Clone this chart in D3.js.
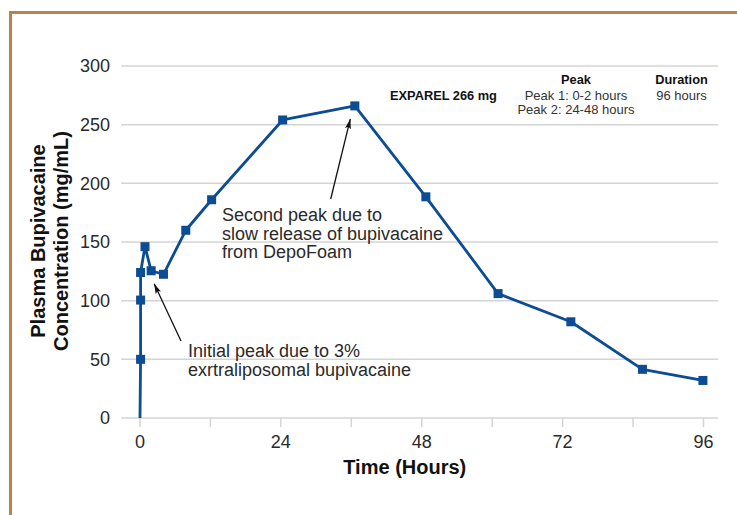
<!DOCTYPE html>
<html>
<head>
<meta charset="utf-8">
<script src="https://cdn.jsdelivr.net/npm/d3@7"></script>
<style>
    body { margin: 0; background: #fff; }
    svg text { font-family: "Liberation Sans", Helvetica, Arial, sans-serif; }
</style>
</head>
<body>
<div id="chart"></div>
<script>
// plasma concentration
var hours = [0, 0.1, 0.1, 0.1, 0.85, 1.9, 4, 7.8, 12.2, 24.3, 36.6, 48.7, 61, 73.4, 85.6, 95.9];
var conc = [0, 50, 100.5, 124, 146, 125.5, 122.5, 160, 186, 254, 266, 188.5, 106, 82, 41.5, 32];
var yTicks = [0, 50, 100, 150, 200, 250, 300];
var xTicks = [0, 24, 48, 72, 96];
var xMinorTicks = [0, 12, 24, 36, 48, 60, 72, 84, 96];
var yTitle = ["Plasma Bupivacaine", "Concentration (mg/mL)"];
var xTitle = "Time (Hours)";
var note1 = ["Second peak due to", "slow release of bupivacaine", "from DepoFoam"];
var note2 = ["Initial peak due to 3%", "exrtraliposomal bupivacaine"];
var tableDrug = "EXPAREL 266 mg";
var tablePeak = ["Peak 1: 0-2 hours", "Peak 2: 24-48 hours"];
var tableDuration = ["96 hours"];

var W = 737, H = 515;
var blue = "#0b4c92";
var grid = "#d4d4d4";

var svg = d3.select("#chart").append("svg")
    .attr("width", W)
    .attr("height", H);

// frame
svg.append("path")
    .attr("d", "M10.5," + H + " L10.5,12.5 L" + W + ",12.5")
    .attr("fill", "none")
    .attr("stroke", "#b9834f")
    .attr("stroke-width", 3);

var x = d3.scaleLinear().domain([0, 96]).range([140, 703.5]);
var y = d3.scaleLinear().domain([0, 300]).range([418, 66]);

// gridlines
svg.append("g").selectAll("line").data(yTicks)
    .enter().append("line")
    .attr("x1", 121)
    .attr("x2", 718)
    .attr("y1", function (d) { return y(d); })
    .attr("y2", function (d) { return y(d); })
    .attr("stroke", grid)
    .attr("stroke-width", 1.5);

// x ticks
svg.append("g").selectAll("line").data(xMinorTicks)
    .enter().append("line")
    .attr("x1", function (d) { return x(d); })
    .attr("x2", function (d) { return x(d); })
    .attr("y1", y(0))
    .attr("y2", y(0) + 9)
    .attr("stroke", grid)
    .attr("stroke-width", 1.5);

svg.append("g").selectAll("text").data(yTicks)
    .enter().append("text")
    .attr("x", 110)
    .attr("y", function (d) { return y(d); })
    .attr("dy", "0.35em")
    .attr("text-anchor", "end")
    .attr("font-size", "18px")
    .attr("fill", "#2a2a2a")
    .text(function (d) { return d; });

svg.append("g").selectAll("text").data(xTicks)
    .enter().append("text")
    .attr("x", function (d) { return x(d); })
    .attr("y", 448)
    .attr("text-anchor", "middle")
    .attr("font-size", "18px")
    .attr("fill", "#2a2a2a")
    .text(function (d) { return d; });

// axis titles
svg.append("text")
    .attr("x", x(48) - 17)
    .attr("y", 474)
    .attr("text-anchor", "middle")
    .attr("font-size", "20px")
    .attr("font-weight", "bold")
    .attr("fill", "#111")
    .text(xTitle);

svg.append("g")
    .attr("transform", "translate(0,241) rotate(-90)")
    .selectAll("text").data(yTitle)
    .enter().append("text")
    .attr("x", 0)
    .attr("y", function (d, i) { return 45 + i * 23; })
    .attr("text-anchor", "middle")
    .attr("font-size", "20px")
    .attr("font-weight", "bold")
    .attr("fill", "#111")
    .text(function (d) { return d; });

// series
var pts = hours.map(function (h, i) { return [h, conc[i]]; });

svg.append("path")
    .datum(pts)
    .attr("d", d3.line()
        .x(function (d) { return x(d[0]); })
        .y(function (d) { return y(d[1]); }))
    .attr("fill", "none")
    .attr("stroke", blue)
    .attr("stroke-width", 2.8)
    .attr("stroke-linejoin", "round");

svg.append("g").selectAll("rect").data(pts.slice(1))
    .enter().append("rect")
    .attr("x", function (d) { return x(d[0]) - 4.5; })
    .attr("y", function (d) { return y(d[1]) - 4.5; })
    .attr("width", 9)
    .attr("height", 9)
    .attr("fill", blue);

// annotation arrows
svg.append("defs").append("marker")
    .attr("id", "head")
    .attr("viewBox", "0 0 10 6")
    .attr("refX", 10)
    .attr("refY", 3)
    .attr("markerWidth", 10)
    .attr("markerHeight", 6)
    .attr("markerUnits", "userSpaceOnUse")
    .attr("orient", "auto")
    .append("path")
    .attr("d", "M0,0 L10,3 L0,6 L2,3 Z")
    .attr("fill", "#111");

svg.append("line")
    .attr("x1", 330.7).attr("y1", 199)
    .attr("x2", x(36.6) - 4.5).attr("y2", y(266) + 13)
    .attr("stroke", "#111")
    .attr("stroke-width", 1.3)
    .attr("marker-end", "url(#head)");

svg.append("line")
    .attr("x1", 181).attr("y1", 341)
    .attr("x2", x(1.9) + 3).attr("y2", y(125.5) + 13)
    .attr("stroke", "#111")
    .attr("stroke-width", 1.3)
    .attr("marker-end", "url(#head)");

svg.append("g").selectAll("text").data(note1)
    .enter().append("text")
    .attr("x", 222)
    .attr("y", function (d, i) { return 221 + i * 18.7; })
    .attr("font-size", "18px")
    .attr("fill", "#2a2a2a")
    .text(function (d) { return d; });

svg.append("g").selectAll("text").data(note2)
    .enter().append("text")
    .attr("x", 188)
    .attr("y", function (d, i) { return 357 + i * 18.7; })
    .attr("font-size", "18px")
    .attr("fill", "#2a2a2a")
    .text(function (d) { return d; });

// info table
svg.append("text")
    .attr("x", 390)
    .attr("y", 100)
    .attr("font-size", "12.8px")
    .attr("font-weight", "bold")
    .attr("fill", "#111")
    .text(tableDrug);

svg.append("text")
    .attr("x", 576)
    .attr("y", 84)
    .attr("text-anchor", "middle")
    .attr("font-size", "12.8px")
    .attr("font-weight", "bold")
    .attr("fill", "#111")
    .text("Peak");

svg.append("text")
    .attr("x", 681.5)
    .attr("y", 84)
    .attr("text-anchor", "middle")
    .attr("font-size", "12.8px")
    .attr("font-weight", "bold")
    .attr("fill", "#111")
    .text("Duration");

svg.append("g").selectAll("text").data(tablePeak)
    .enter().append("text")
    .attr("x", 576)
    .attr("y", function (d, i) { return 99.5 + i * 14; })
    .attr("text-anchor", "middle")
    .attr("font-size", "13px")
    .attr("fill", "#333")
    .text(function (d) { return d; });

svg.append("g").selectAll("text").data(tableDuration)
    .enter().append("text")
    .attr("x", 681.5)
    .attr("y", 99.5)
    .attr("text-anchor", "middle")
    .attr("font-size", "13px")
    .attr("fill", "#333")
    .text(function (d) { return d; });
</script>
</body>
</html>
